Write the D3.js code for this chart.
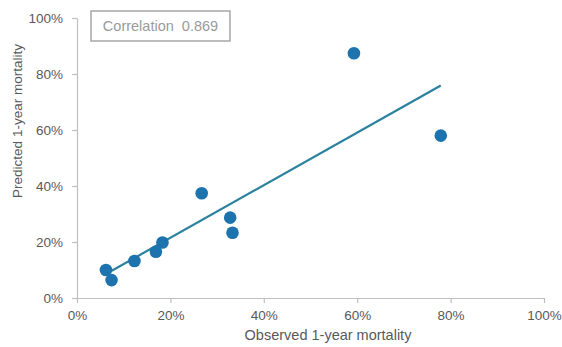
<!DOCTYPE html>
<html><head><meta charset="utf-8">
<script src="https://cdn.jsdelivr.net/npm/d3@7"></script>
<style>body{margin:0;background:#fff}svg{display:block}text{font-family:"Liberation Sans",Arial,sans-serif}</style>
</head><body>
<script>
const observed = [6.2, 7.4, 12.3, 16.9, 18.3, 26.7, 32.8, 33.3, 59.3, 77.9];
const predicted = [10.0, 6.4, 13.2, 16.5, 19.8, 37.4, 28.7, 23.3, 87.4, 58.0];
const xTicks = [0, 20, 40, 60, 80, 100];
const yTicks = [0, 20, 40, 60, 80, 100];
const correlationLabel = "Correlation  0.869";
const xTitle = "Observed 1-year mortality";
const yTitle = "Predicted 1-year mortality";

const W = 562, H = 347;
const svg = d3.select("body").append("svg").attr("width", W).attr("height", H);
const x = d3.scaleLinear().domain([0, 100]).range([77, 544]);
const y = d3.scaleLinear().domain([0, 100]).range([298, 18]);
const fmt = d => d + "%";

const xa = svg.append("g").attr("transform", `translate(0,${y(0)})`)
  .call(d3.axisBottom(x).tickValues(xTicks).tickFormat(fmt).tickSize(5).tickSizeOuter(0));
const ya = svg.append("g").attr("transform", `translate(${x(0)},0)`)
  .call(d3.axisLeft(y).tickValues(yTicks).tickFormat(fmt).tickSize(5).tickSizeOuter(0));
[xa, ya].forEach(a => {
  a.select(".domain").attr("stroke", "#bfbfbf").attr("stroke-width", 1.2);
  a.selectAll(".tick line").attr("stroke", "#bfbfbf").attr("stroke-width", 1.2);
  a.selectAll("text").attr("fill", "#595959").style("font-size", "13.5px");
});
xa.selectAll("text").attr("dy", "1.0em").attr("y", 8);
ya.selectAll("text").attr("x", -14);

// regression line
const n = observed.length;
const mx = d3.mean(observed), my = d3.mean(predicted);
let sxy = 0, sxx = 0;
for (let i = 0; i < n; i++) { sxy += (observed[i]-mx)*(predicted[i]-my); sxx += (observed[i]-mx)**2; }
const slope = sxy / sxx, icpt = my - slope * mx;
const x0 = d3.min(observed), x1 = d3.max(observed);
svg.append("line")
  .attr("x1", x(x0)).attr("y1", y(icpt + slope*x0))
  .attr("x2", x(x1)).attr("y2", y(icpt + slope*x1))
  .attr("stroke", "#2a829f").attr("stroke-width", 2.2);

svg.append("g").selectAll("circle").data(observed).join("circle")
  .attr("cx", d => x(d)).attr("cy", (d, i) => y(predicted[i])).attr("r", 6.3)
  .attr("fill", "#1c73ad");

// correlation box
svg.append("rect").attr("x", 91).attr("y", 11).attr("width", 139).attr("height", 30)
  .attr("fill", "#fff").attr("stroke", "#a6a6a6").attr("stroke-width", 1.5);
svg.append("text").attr("x", 160.5).attr("y", 31).attr("text-anchor", "middle")
  .attr("fill", "#9a9a9a").style("font-size", "14.5px").style("white-space", "pre").text(correlationLabel);

svg.append("text").attr("x", 328).attr("y", 340).attr("text-anchor", "middle")
  .attr("fill", "#595959").style("font-size", "14.5px").text(xTitle);
svg.append("text").attr("transform", "translate(22,121) rotate(-90)").attr("text-anchor", "middle")
  .attr("fill", "#595959").style("font-size", "13.5px").text(yTitle);
</script>
</body></html>
